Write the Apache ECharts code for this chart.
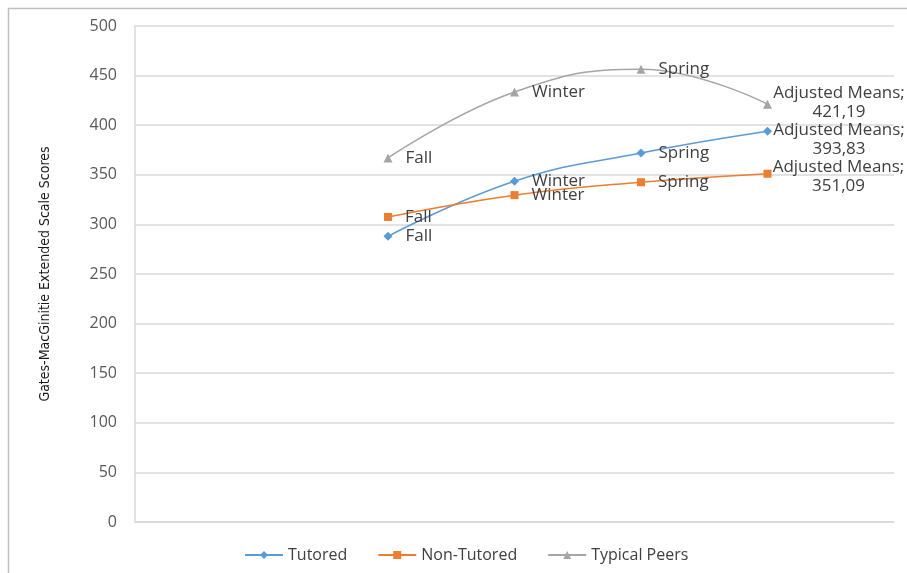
<!DOCTYPE html>
<html>
<head>
<meta charset="utf-8">
<script src="https://cdn.jsdelivr.net/npm/echarts@6/dist/echarts.min.js"></script>
<style>html,body{margin:0;padding:0;background:#fff}#c{width:907px;height:573px}</style>
</head>
<body>
<div id="c"></div>
<script>
var seasons = ['Fall', 'Winter', 'Spring', 'Adjusted Means'];
var tutored = [288, 343.5, 372, 393.83];
var nonTutored = [307.5, 329.5, 342.5, 351.09];
var typicalPeers = [367, 433.5, 456.5, 421.19];
var yTicks = [0, 50, 100, 150, 200, 250, 300, 350, 400, 450, 500];
var adjOffsets = {Tutored: 8, 'Non-Tutored': 3, 'Typical Peers': -2};

function pts(vals) { return vals.map(function (v, i) { return [i + 2, v]; }); }
function fmtNum(v) { return v.toFixed(2).replace('.', ','); }

function mkSeries(name, vals, color, symbol, size) {
  return {
    name: name, type: 'line', smooth: 0.45, data: pts(vals),
    symbol: symbol, symbolSize: size,
    lineStyle: {color: color, width: 1.5},
    itemStyle: {color: color},
    label: {
      show: true, position: 'right', distance: 13,
      fontFamily: 'Open Sans', fontSize: 17, color: '#404040', lineHeight: 19,
      formatter: function (p) {
        var s = seasons[p.dataIndex];
        if (p.dataIndex === seasons.length - 1) return s + ';\n' + fmtNum(p.value[1]);
        return s;
      }
    },
    emphasis: {disabled: true}
  };
}

var series = [
  mkSeries('Tutored', tutored, '#5B9BD5', 'diamond', 9),
  mkSeries('Non-Tutored', nonTutored, '#ED7D31', 'rect', 8),
  mkSeries('Typical Peers', typicalPeers, '#A5A5A5', 'triangle', 9)
];
series.forEach(function (s) {
  var last = s.data.length - 1;
  s.data[last] = {value: s.data[last], label: {distance: 5, align: 'center', offset: [62, adjOffsets[s.name]]}};
});

var chart = echarts.init(document.getElementById('c'));
chart.setOption({
  animation: false,
  graphic: [{
    type: 'polyline', silent: true,
    shape: {points: [[8.5, 573], [8.5, 8.5], [907, 8.5]]},
    style: {stroke: '#BFBFBF', lineWidth: 1.5, fill: null}
  }],
  grid: {left: 135, right: 13, top: 26, bottom: 51},
  legend: {
    left: 239, top: 542, itemGap: 30, itemWidth: 38, itemHeight: 10,
    textStyle: {fontFamily: 'Open Sans', fontSize: 16, color: '#404040'},
    data: ['Tutored', 'Non-Tutored', 'Typical Peers']
  },
  xAxis: {
    type: 'value', min: 0, max: 6, interval: 1,
    axisLine: {show: true, lineStyle: {color: '#D9D9D9', width: 1.5}},
    axisTick: {show: false}, axisLabel: {show: false}, splitLine: {show: false}
  },
  yAxis: {
    type: 'value', min: yTicks[0], max: yTicks[yTicks.length - 1], interval: 50,
    name: 'Gates-MacGinitie Extended Scale Scores', nameLocation: 'middle', nameGap: 83,
    nameTextStyle: {fontFamily: 'DejaVu Sans Condensed', fontSize: 14, color: '#1a1a1a'},
    axisLine: {show: true, lineStyle: {color: '#D9D9D9', width: 1.5}},
    axisTick: {show: false},
    axisLabel: {fontFamily: 'Open Sans', fontSize: 16, color: '#595959', margin: 18},
    splitLine: {lineStyle: {color: '#D9D9D9', width: 1.5}}
  },
  series: series
});
</script>
</body>
</html>
